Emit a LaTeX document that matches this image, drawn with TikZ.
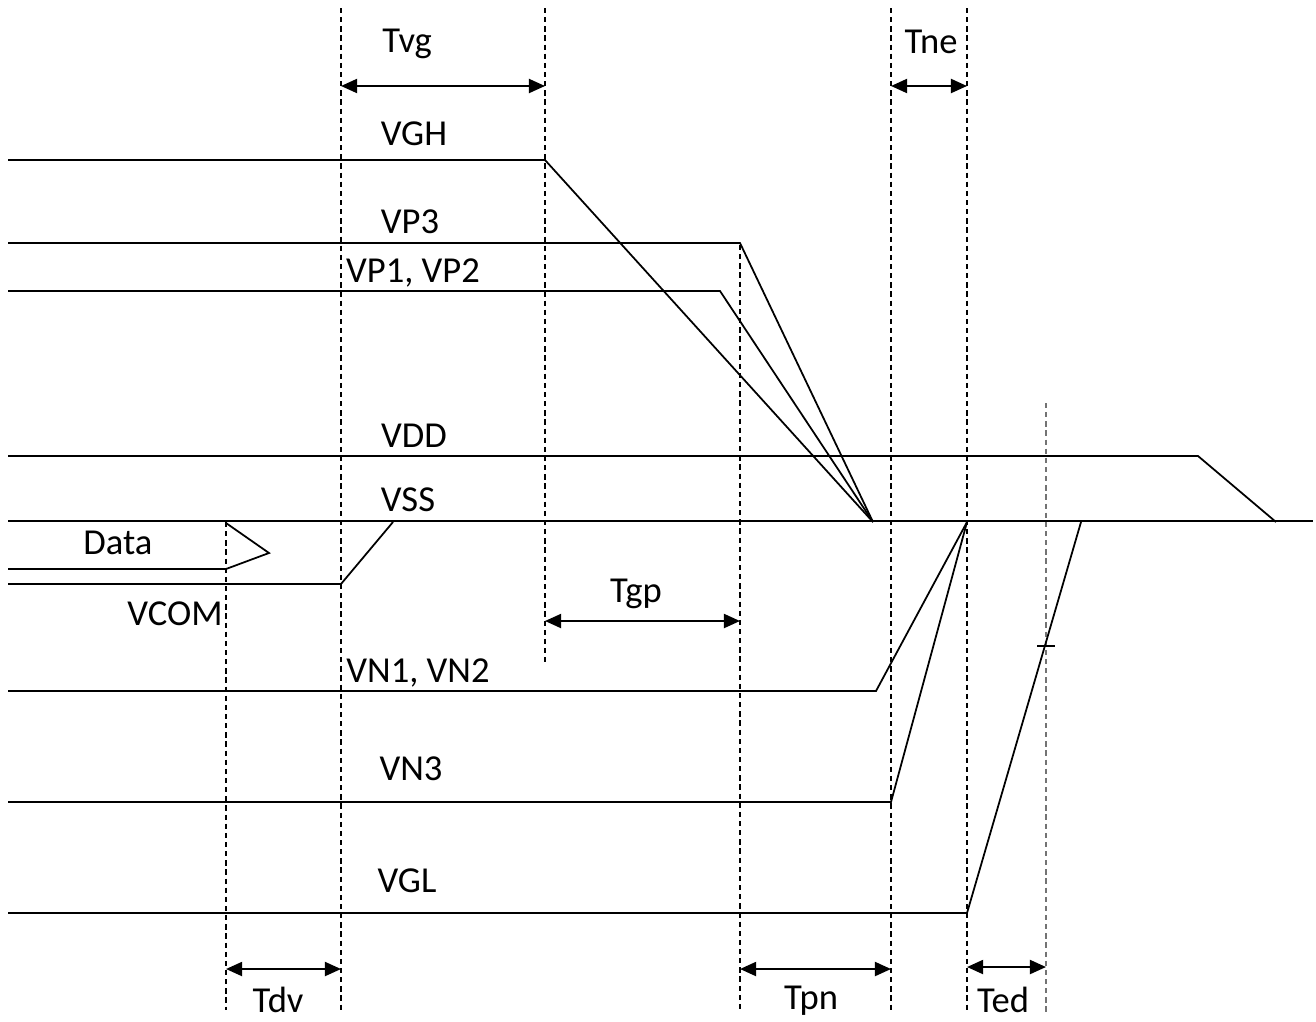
\documentclass[tikz,border=0pt]{standalone}
\usepackage{fontspec}
\setmainfont{Carlito}
\usetikzlibrary{arrows.meta}
\tikzset{
  sig/.style={line width=0.5pt},
  guide/.style={line width=0.5pt,dash pattern=on 1.5pt off 1.1pt},
  span/.style={line width=0.6pt,{Triangle[length=4.6pt,width=4pt]}-{Triangle[length=4.6pt,width=4pt]}},
  lbl/.style={font=\fontsize{10.4}{12}\selectfont,inner sep=0pt}
}
\begin{document}
\begin{tikzpicture}[x=0.01cm,y=-0.01cm]
\useasboundingbox (0,0) rectangle (1316,1021);
% guide lines
\draw[guide] (226,522) -- (226,1010);
\draw[guide] (341,8) -- (341,1010);
\draw[guide] (545,8) -- (545,662);
\draw[guide] (740,245) -- (740,1012);
\draw[guide] (891,8) -- (891,1010);
\draw[guide] (967,8) -- (967,1012);
\draw[guide,black!55] (1046,403) -- (1046,1012);
% rails
\draw[sig] (8,160) -- (545,160) -- (873,522);
\draw[sig] (8,243) -- (740,243) -- (873,522);
\draw[sig] (8,291) -- (720,291) -- (873,522);
\draw[sig] (8,456) -- (1198,456) -- (1276,522);
\draw[sig] (8,521) -- (1313,521);
\draw[sig] (8,569) -- (226,569) -- (269,553) -- (226,523);
\draw[sig] (8,584) -- (341,584) -- (393,522);
\draw[sig] (8,691) -- (876,691) -- (967,522);
\draw[sig] (8,802) -- (891,802) -- (967,522);
\draw[sig] (8,913) -- (967,913) -- (1081,522);
\draw[sig] (1037,646) -- (1055,646);
% labels
\node[lbl] (vgh) at (414,134) {VGH};
\node[lbl] (vp3) at (410,222) {VP3};
\node[lbl] (vp12) at (413,273) {VP1, VP2};
\node[lbl] (vdd) at (414,436) {VDD};
\node[lbl] (vss) at (408,500) {VSS};
\node[lbl] (data) at (118,543) {Data};
\node[lbl] (vcom) at (175,614) {VCOM};
\node[lbl] (vn12) at (418,673) {VN1, VN2};
\node[lbl] (vn3) at (411,769) {VN3};
\node[lbl] (vgl) at (407,881) {VGL};
% timing spans
\coordinate (tvgL) at (341,86);  \coordinate (tvgR) at (545,86);
\coordinate (tneL) at (891,86);  \coordinate (tneR) at (967,86);
\coordinate (tgpL) at (545,621); \coordinate (tgpR) at (740,621);
\coordinate (tdvL) at (226,969); \coordinate (tdvR) at (341,969);
\coordinate (tpnL) at (740,969); \coordinate (tpnR) at (891,969);
\coordinate (tedL) at (967,967); \coordinate (tedR) at (1046,967);
\draw[span] (tvgL) -- (tvgR);
\draw[span] (tneL) -- (tneR);
\draw[span] (tgpL) -- (tgpR);
\draw[span] (tdvL) -- (tdvR);
\draw[span] (tpnL) -- (tpnR);
\draw[span] (tedL) -- (tedR);
\node[lbl] (tvg) at (407,44) {Tvg};
\node[lbl] (tne) at (931,42) {Tne};
\node[lbl] (tgp) at (636,594) {Tgp};
\node[lbl] (tdv) at (278,1000) {Tdv};
\node[lbl] (tpn) at (811,1001) {Tpn};
\node[lbl] (ted) at (1003,1000) {Ted};
\end{tikzpicture}
\end{document}
